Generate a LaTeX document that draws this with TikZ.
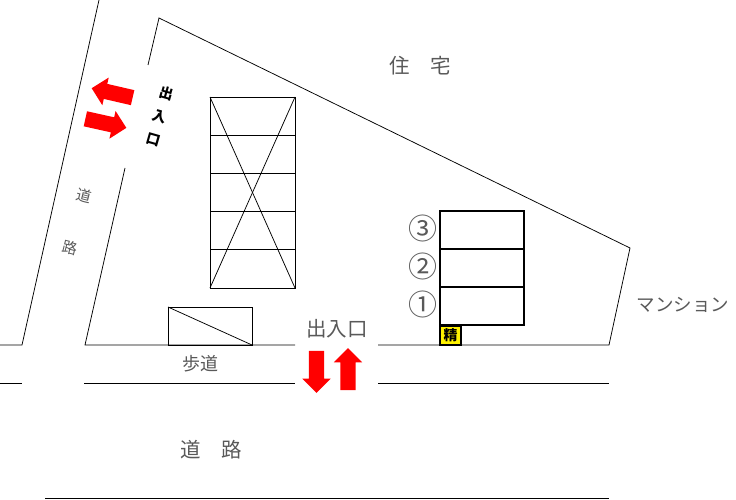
\documentclass[tikz,border=0pt]{standalone}
\usepackage{fontspec}
\setmainfont{Noto Sans CJK JP}
\usepackage{tikz}
\usetikzlibrary{shapes,arrows,calc}
\definecolor{labelgray}{gray}{0.35}
\tikzstyle{line} = [draw, line width=0.75pt]
\tikzstyle{thickline} = [draw, line width=1.5pt]
\tikzstyle{label} = [text=labelgray, inner sep=0pt, font=\fontsize{20.5}{24}\selectfont]
\tikzstyle{small} = [text=labelgray, inner sep=0pt, font=\fontsize{18}{21}\selectfont]
\tikzstyle{redarrow} = [fill=red, single arrow, single arrow head extend=6.5pt, single arrow head indent=0pt, minimum width=28pt, minimum height=42pt, inner xsep=0pt, inner ysep=7.5pt]

\begin{document}
\begin{tikzpicture}[x=1pt, y=-1pt]
        \useasboundingbox (0,0) rectangle (736,500);
        \path[line] (99,0) -- (22,345) -- (0,345);
        \path[line] (0,383) -- (22,383);
        \path[line] (148,65) -- (159,18) -- (630,248) -- (609,345) -- (378,345);
        \path[line] (295,345) -- (85,345) -- (125,168);
        \path[line] (84,383) -- (295,383);
        \path[line] (378,383) -- (609,383);
        \path[line] (45,498) -- (609,498);
        \path[line] (210,97) rectangle (295,288);
        \path[line] (210,135) -- (295,135);
        \path[line] (210,173) -- (295,173);
        \path[line] (210,211) -- (295,211);
        \path[line] (210,249) -- (295,249);
        \path[line] (210,97) -- (295,288);
        \path[line] (295,97) -- (210,288);
        \path[line] (168,307) rectangle (252,345);
        \path[line] (168,307) -- (252,345);
        \path[thickline] (440,211) rectangle (524,325);
        \path[thickline] (440,249) -- (524,249);
        \path[thickline] (440,287) -- (524,287);
        \node[draw, line width=1.5pt, fill=yellow, minimum width=21pt, minimum height=19pt, inner sep=0pt, font=\fontsize{14}{15}\selectfont\bfseries] (seisan) at (450.5,335.5) {精};
        \node[label] (jutaku) at (420,66) {住\hspace{1em}宅};
        \node[label] (mansion) at (683,305) {\fontsize{18.5}{21}\selectfont マンション};
        \node[label] (slot3) at (423,228) {\fontsize{29}{31}\selectfont ③};
        \node[label] (slot2) at (423,266) {\fontsize{29}{31}\selectfont ②};
        \node[label] (slot1) at (423,304) {\fontsize{29}{31}\selectfont ①};
        \node[label] (entry) at (337,329) {出入口};
        \node[small] (hodo) at (200,364) {歩道};
        \node[label] (road) at (211,450) {道\hspace{1em}路};
        \node[small, font=\fontsize{15}{17}\selectfont, rotate=-14] (road1) at (84,196) {道};
        \node[small, font=\fontsize{15}{17}\selectfont, rotate=-14] (road2) at (70,248) {路};
        \node[inner sep=0pt, rotate=-16, align=center, font=\fontsize{14}{24}\selectfont\bfseries] (entryw) at (160,116) {出\\入\\口};
        \node[redarrow, rotate=167] (arrow1) at (115.9,93.8) {};
        \node[redarrow, rotate=-12.5] (arrow2) at (102.1,122.5) {};
        \node[redarrow, rotate=-90] (arrow3) at (316.5,368) {};
        \node[redarrow, rotate=90] (arrow4) at (348,373) {};
    \end{tikzpicture}
\end{document}
